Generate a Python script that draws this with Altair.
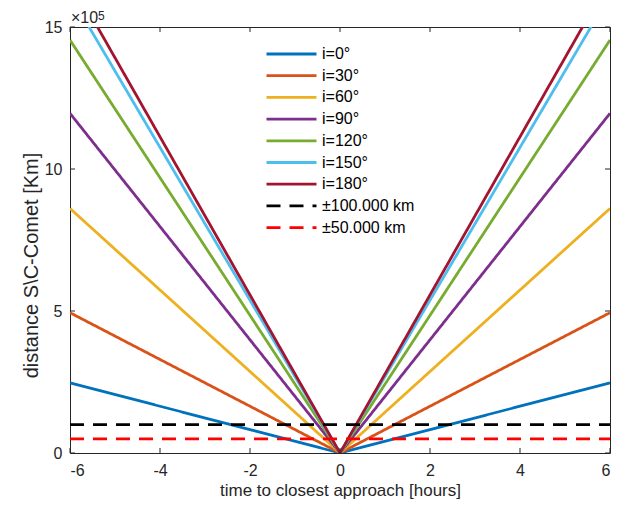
import altair as alt
import pandas as pd

# ---- data (distance in units of 1e5 km) ----
times = [-6, 0, 6]
series_labels = ["i=0°", "i=30°", "i=60°", "i=90°", "i=120°", "i=150°", "i=180°"]
end_values = [2.47, 4.94, 8.61, 11.96, 14.54, 16.14, 16.70]   # value at |t| = 6 h
threshold_labels = ["±100.000 km", "±50.000 km"]
threshold_values = [1.0, 0.5]

x_ticks = [-6, -4, -2, 0, 2, 4, 6]
y_ticks = [0, 5, 10, 15]

colors = ["#0072BD", "#D95319", "#EDB120", "#7E2F8E", "#77AC30", "#4DBEEE", "#A2142F",
          "#000000", "#FF0000"]
all_labels = series_labels + threshold_labels
dashes = [[1, 0]] * len(series_labels) + [[14, 9]] * len(threshold_labels)

rows = []
for lab, v in zip(series_labels, end_values):
    for t in times:
        rows.append({"label": lab, "t": t, "d": 0.0 if t == 0 else v})
for lab, v in zip(threshold_labels, threshold_values):
    for t in [times[0], times[-1]]:
        rows.append({"label": lab, "t": t, "d": v})
df = pd.DataFrame(rows)

W, H = 540, 426
FONT = "Liberation Sans"
TXT = "#262626"

leg = alt.Legend(
    title=None, orient="none", legendX=195, legendY=19,
    symbolType="stroke", symbolSize=2500, symbolStrokeWidth=2.8,
    labelFontSize=16, labelFont=FONT, labelColor="#000000",
    clipHeight=16, rowPadding=5.7, labelOffset=4, padding=0,
)

xs = alt.Scale(domain=[-6, 6], nice=False, zero=False)
ys = alt.Scale(domain=[0, 15], nice=False)

lines = alt.Chart(df).mark_line(clip=True, strokeWidth=2.8).encode(
    x=alt.X("t:Q", scale=xs,
            axis=alt.Axis(values=x_ticks, title="time to closest approach [hours]",
                          labelExpr="'' + datum.value", labelPadding=9,
                          titleFontSize=17, titleY=42, titleBaseline="alphabetic")),
    y=alt.Y("d:Q", scale=ys,
            axis=alt.Axis(values=y_ticks, title="distance S\\C-Comet [Km]",
                          labelExpr="'' + datum.value", labelPadding=8,
                          titleFontSize=20, titleX=-39, titleY=238,
                          titleBaseline="middle", titleAlign="center", titleAngle=270)),
    color=alt.Color("label:N", scale=alt.Scale(domain=all_labels, range=colors),
                    legend=leg, sort=all_labels),
    strokeDash=alt.StrokeDash("label:N", scale=alt.Scale(domain=all_labels, range=dashes),
                              legend=leg, sort=all_labels),
)

xt = pd.DataFrame({"v": x_ticks})
yt = pd.DataFrame({"v": y_ticks})
tick_color = TXT
xb = alt.Chart(xt).mark_rule(color=tick_color, strokeWidth=1).encode(
    x=alt.X("v:Q", scale=xs), y=alt.value(H), y2=alt.value(H - 5))
xtop = alt.Chart(xt).mark_rule(color=tick_color, strokeWidth=1).encode(
    x=alt.X("v:Q", scale=xs), y=alt.value(0), y2=alt.value(5))
yl = alt.Chart(yt).mark_rule(color=tick_color, strokeWidth=1).encode(
    y=alt.Y("v:Q", scale=ys), x=alt.value(0), x2=alt.value(5))
yr = alt.Chart(yt).mark_rule(color=tick_color, strokeWidth=1).encode(
    y=alt.Y("v:Q", scale=ys), x=alt.value(W), x2=alt.value(W - 5))

exp_base = alt.Chart(pd.DataFrame({"s": ["×10"]})).mark_text(
    align="left", baseline="alphabetic", fontSize=16, font=FONT, color=TXT
).encode(text="s:N", x=alt.value(1), y=alt.value(-4))
exp_pow = alt.Chart(pd.DataFrame({"s": ["5"]})).mark_text(
    align="left", baseline="alphabetic", fontSize=12, font=FONT, color=TXT
).encode(text="s:N", x=alt.value(28), y=alt.value(-7))

chart = alt.layer(lines, xb, xtop, yl, yr, exp_base, exp_pow).properties(
    width=W, height=H,
    autosize=alt.AutoSizeParams(type="none"),
    padding={"left": 62, "top": 19, "right": 1, "bottom": 46},
).configure_view(
    stroke=TXT, strokeWidth=1
).configure_axis(
    domain=False, ticks=False, grid=False,
    labelFont=FONT, labelFontSize=16, labelColor=TXT,
    titleFont=FONT, titleColor=TXT, titleFontWeight="normal",
)

chart.save("out.html", embed_options={"renderer": "svg", "actions": False})
